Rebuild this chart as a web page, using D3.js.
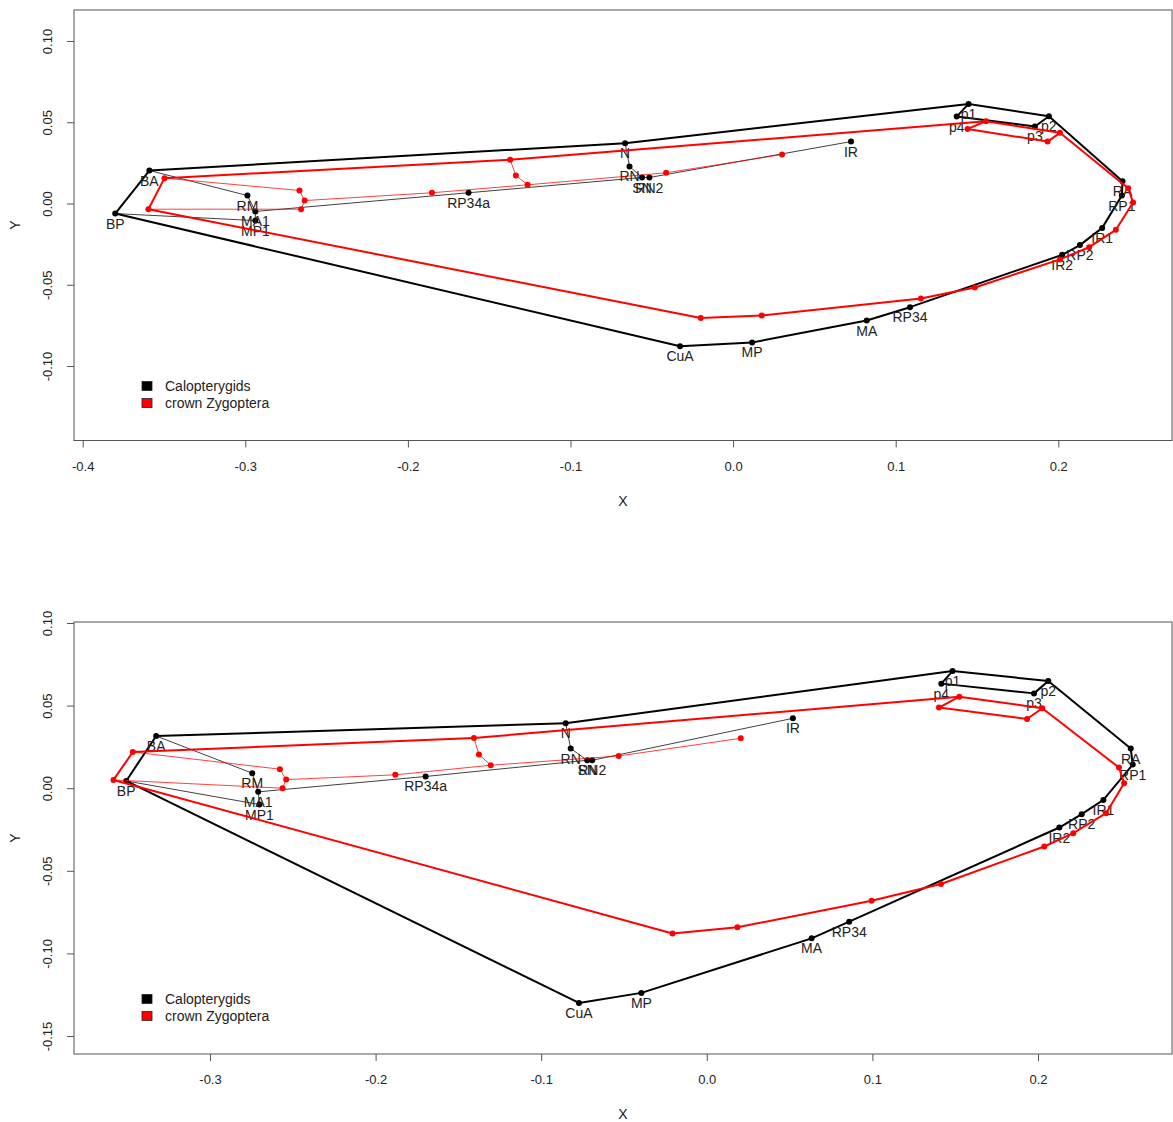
<!DOCTYPE html>
<html>
<head>
<meta charset="utf-8">
<script src="https://cdn.jsdelivr.net/npm/d3@7"></script>
<style>
body { margin: 0; background: #fff; }
text { font-family: "Liberation Sans", Arial, sans-serif; }
</style>
</head>
<body>
<div id="chart"></div>
<script>
// landmark names (same order for every series)
var landmarks = ["BA","BP","RM","MA1","MP1","RP34a","N","RN","SN","RN2","IR",
                 "p1","p2","p3","p4","RA","RP1","IR1","RP2","IR2","RP34","MA","MP","CuA"];

// top panel
var caloX1  = [-0.359,-0.380,-0.2987,-0.2938,-0.2938,-0.1627,-0.0664,-0.0637,-0.0560,-0.0515,0.0725,
               0.1448,0.1942,0.1856,0.1375,0.2395,0.2391,0.2270,0.2133,0.2024,0.1088,0.0822,0.0117,-0.0326];
var caloY1  = [0.0203,-0.0062,0.0049,-0.0049,-0.0105,0.0066,0.0371,0.0228,0.0160,0.0160,0.0381,
               0.0613,0.0537,0.0474,0.0535,0.0137,0.0049,-0.0150,-0.0256,-0.0316,-0.0638,-0.0720,-0.0855,-0.0878];
var crownX1 = [-0.3497,-0.3596,-0.2667,-0.2635,-0.2657,-0.1852,-0.1371,-0.1336,-0.1264,-0.0412,0.0301,
               0.1555,0.2010,0.1934,0.1442,0.2430,0.2460,0.2354,0.2190,0.2010,0.1487,0.1155,0.0176,-0.0199];
var crownY1 = [0.0156,-0.0035,0.0080,0.0018,-0.0035,0.0066,0.0269,0.0172,0.0115,0.0189,0.0301,
               0.0506,0.0435,0.0381,0.0459,0.0094,0.0006,-0.0162,-0.0269,-0.0344,-0.0517,-0.0584,-0.0689,-0.0705];

// bottom panel
var caloX2  = [-0.3325,-0.3506,-0.2745,-0.2709,-0.2701,-0.1698,-0.0852,-0.0822,-0.0722,-0.0692,0.0520,
               0.1484,0.2062,0.1976,0.1416,0.2560,0.2572,0.2395,0.2264,0.2129,0.0860,0.0633,-0.0395,-0.0772];
var caloY2  = [0.0316,0.0044,0.0091,-0.0022,-0.0099,0.0071,0.0393,0.0240,0.0169,0.0169,0.0423,
               0.0709,0.0649,0.0574,0.0633,0.0240,0.0143,-0.0071,-0.0157,-0.0238,-0.0808,-0.0909,-0.1239,-0.1300];
var crownX2 = [-0.3466,-0.3583,-0.2578,-0.2540,-0.2562,-0.1881,-0.1406,-0.1376,-0.1305,-0.0532,0.0205,
               0.1525,0.2026,0.1934,0.1402,0.2489,0.2520,0.2411,0.2213,0.2038,0.1414,0.0995,0.0185,-0.0207];
var crownY2 = [0.0219,0.0050,0.0115,0.0052,0.0000,0.0081,0.0304,0.0204,0.0139,0.0195,0.0302,
               0.0554,0.0484,0.0419,0.0488,0.0125,0.0030,-0.0151,-0.0272,-0.0353,-0.0580,-0.0681,-0.0842,-0.0879];

var xTicks1 = [-0.4,-0.3,-0.2,-0.1,0.0,0.1,0.2];
var yTicks1 = [-0.10,-0.05,0.00,0.05,0.10];
var xTicks2 = [-0.3,-0.2,-0.1,0.0,0.1,0.2];
var yTicks2 = [-0.15,-0.10,-0.05,0.00,0.05,0.10];

var groups = ["Calopterygids","crown Zygoptera"];
var colors = ["black","red"];

// wing outline (thick) and inner veins (thin)
var outline = [["BA","N"],["N","p1"],["p1","p2"],["p2","RA"],["RA","RP1"],["RP1","IR1"],["IR1","RP2"],
               ["RP2","IR2"],["IR2","RP34"],["RP34","MA"],["MA","MP"],["MP","CuA"],["CuA","BP"],["BP","BA"],
               ["p1","p4"],["p4","p3"],["p3","p2"]];
var veins = [["BA","RM"],["RM","MA1"],["MA1","MP1"],["MP1","BP"],["MA1","RP34a"],["RP34a","SN"],
             ["SN","RN2"],["RN2","IR"],["N","RN"],["RN","SN"]];

var W = 1173, H = 1122;
var svg = d3.select("#chart").append("svg").attr("width", W).attr("height", H);

function fmt(p) {
  return function(d){ return d3.format(p)(d).replace("\u2212","-"); };
}

function panel(opt) {
  var x = d3.scaleLinear().domain([opt.xt[0], opt.xt[opt.xt.length-1]]).range(opt.xr);
  var y = d3.scaleLinear().domain([opt.yt[0], opt.yt[opt.yt.length-1]]).range(opt.yr);
  var g = svg.append("g");
  var b = opt.box;

  g.append("rect").attr("x", b[0]).attr("y", b[1]).attr("width", b[2]-b[0]).attr("height", b[3]-b[1])
    .attr("fill", "none").attr("stroke", "#555").attr("stroke-width", 1);

  var xa = g.append("g").attr("transform", "translate(0," + b[3] + ")")
    .call(d3.axisBottom(x).tickValues(opt.xt).tickSize(7).tickPadding(14).tickFormat(fmt(".1f")));
  xa.select(".domain").remove();
  xa.selectAll("line").attr("stroke","#555");
  xa.selectAll("text").attr("fill","#222").style("font-size","13px");

  var ya = g.append("g").attr("transform", "translate(" + b[0] + ",0)")
    .call(d3.axisLeft(y).tickValues(opt.yt).tickSize(7).tickFormat(fmt(".2f")));
  ya.select(".domain").remove();
  ya.selectAll("line").attr("stroke","#555");
  ya.selectAll("text").attr("fill","#222").style("font-size","13px")
    .attr("text-anchor","middle").attr("dy","0")
    .attr("transform","translate(-22,0) rotate(-90)").attr("x",0).attr("y",0);

  g.append("text").attr("x", 623).attr("y", b[3] + 65).attr("text-anchor","middle")
    .style("font-size","14px").attr("fill","#222").text("X");
  g.append("text").attr("transform","translate(20," + opt.ylabY + ") rotate(-90)").attr("text-anchor","middle")
    .style("font-size","14px").attr("fill","#222").text("Y");

  var sets = [{xs: opt.calo[0], ys: opt.calo[1], c: colors[0]}, {xs: opt.crown[0], ys: opt.crown[1], c: colors[1]}];
  sets.forEach(function(s, si) {
    var pt = {};
    landmarks.forEach(function(n, i){ pt[n] = [x(s.xs[i]), y(s.ys[i])]; });
    var lg = g.append("g");
    lg.selectAll("line.v").data(veins).enter().append("line")
      .attr("x1", function(d){ return pt[d[0]][0]; }).attr("y1", function(d){ return pt[d[0]][1]; })
      .attr("x2", function(d){ return pt[d[1]][0]; }).attr("y2", function(d){ return pt[d[1]][1]; })
      .attr("stroke", s.c).attr("stroke-width", 1).attr("stroke-opacity", 0.75);
    lg.selectAll("line.o").data(outline).enter().append("line")
      .attr("x1", function(d){ return pt[d[0]][0]; }).attr("y1", function(d){ return pt[d[0]][1]; })
      .attr("x2", function(d){ return pt[d[1]][0]; }).attr("y2", function(d){ return pt[d[1]][1]; })
      .attr("stroke", s.c).attr("stroke-width", 2);
    lg.selectAll("circle").data(landmarks).enter().append("circle")
      .attr("cx", function(n){ return pt[n][0]; }).attr("cy", function(n){ return pt[n][1]; })
      .attr("r", 3).attr("fill", s.c);
    if (si === 0) {
      lg.selectAll("text").data(landmarks).enter().append("text")
        .attr("x", function(n){ return pt[n][0]; }).attr("y", function(n){ return pt[n][1] + 15; })
        .attr("text-anchor","middle").style("font-size","14px").attr("fill","#222")
        .text(function(n){ return n; });
    }
  });

  groups.forEach(function(gname, i) {
    g.append("rect").attr("x", 142).attr("y", opt.legY - 4.5 + i*17).attr("width", 10).attr("height", 9)
      .attr("fill", colors[i]).attr("stroke", "#222").attr("stroke-width", 0.8);
    g.append("text").attr("x", 165).attr("y", opt.legY + 5 + i*17).style("font-size","14px")
      .attr("fill","#222").text(gname);
  });
}

panel({xt: xTicks1, yt: yTicks1, xr: [82.7, 1058.3], yr: [366, 41], box: [74, 10, 1172, 440.5],
       calo: [caloX1, caloY1], crown: [crownX1, crownY1], legY: 386, ylabY: 225});
panel({xt: xTicks2, yt: yTicks2, xr: [210, 1038], yr: [1036, 623], box: [74, 622, 1172, 1054],
       calo: [caloX2, caloY2], crown: [crownX2, crownY2], legY: 999, ylabY: 838});
</script>
</body>
</html>
